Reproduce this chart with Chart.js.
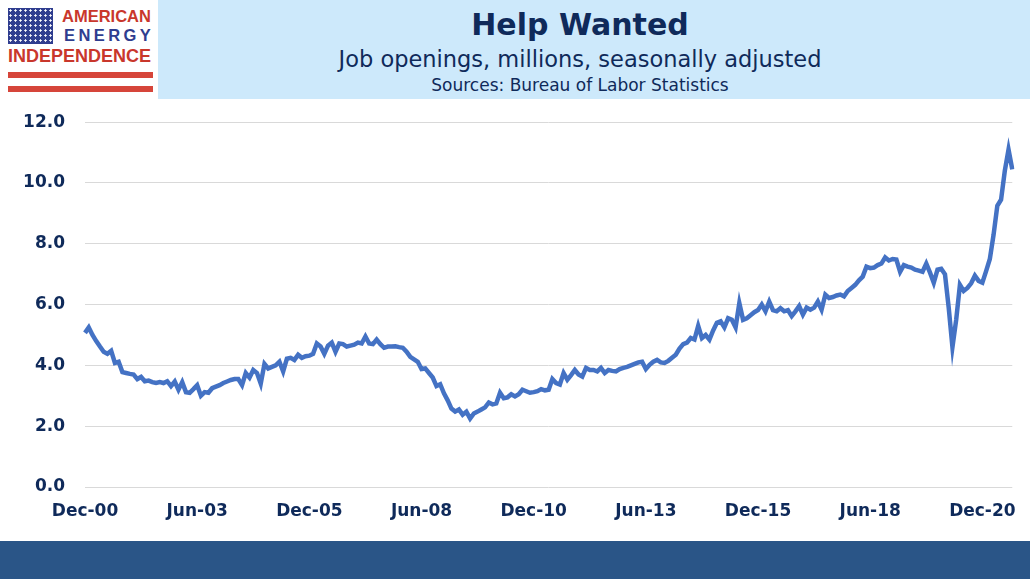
<!DOCTYPE html>
<html>
<head>
<meta charset="utf-8">
<title>Help Wanted</title>
<script src="https://cdn.jsdelivr.net/npm/chart.js@4.4.1/dist/chart.umd.min.js"></script>
<style>
  body { margin: 0; width: 1030px; height: 579px; position: relative; overflow: hidden; background: #fff; font-family: "DejaVu Sans", sans-serif; }
  #flag { position: absolute; left: 8px; top: 8px; width: 45px; height: 36px; background: radial-gradient(circle, #ffffff 0.9px, transparent 1.4px) 0 0 / 5px 5px, #2f3d8f; }
  .logo { position: absolute; font-family: "Liberation Sans", Arial, sans-serif; font-weight: bold; line-height: 1; white-space: nowrap; }
  #am { left: 62px; top: 8px; font-size: 16.5px; color: #c9372c; }
  #en { left: 64px; top: 27px; font-size: 16.5px; color: #2f3d8f; letter-spacing: 3.4px; }
  #ind { left: 8px; top: 47px; font-size: 18px; color: #c9372c; }
  .stripe { position: absolute; left: 8px; width: 145px; height: 6px; background: #d6453a; }
  #header { position: absolute; left: 158px; top: 0; width: 872px; height: 99px; background: #cde9fb; }
  .ttl { position: absolute; left: 130px; width: 900px; text-align: center; color: #0f2a5a; white-space: nowrap; line-height: 1; }
  #t1 { top: 10px; font-size: 30px; font-weight: bold; }
  #t2 { top: 48px; font-size: 22.5px; }
  #t3 { top: 77px; font-size: 17px; }
  #band { position: absolute; left: 0; top: 541px; width: 1030px; height: 38px; background: #2a5587; }
  #wrap { position: absolute; left: 0; top: 92px; width: 1030px; height: 448px; }
</style>
</head>
<body>
<div id="flag"></div>
<div id="header"></div>
<div class="logo" id="am">AMERICAN</div>
<div class="logo" id="en">ENERGY</div>
<div class="logo" id="ind">INDEPENDENCE</div>
<div class="stripe" style="top:72px"></div>
<div class="stripe" style="top:86px"></div>
<div class="ttl" id="t1">Help Wanted</div>
<div class="ttl" id="t2">Job openings, millions, seasonally adjusted</div>
<div class="ttl" id="t3">Sources: Bureau of Labor Statistics</div>
<div id="band"></div>
<div id="wrap"><canvas id="myChart"></canvas></div>

<script>
// job openings, millions (monthly, Dec 2000 - Aug 2021)
const jo2000 = [5.07];
const jo2001 = [5.25, 5.00, 4.80, 4.62, 4.45, 4.38, 4.48, 4.08, 4.12, 3.78, 3.75, 3.72];
const jo2002 = [3.70, 3.55, 3.62, 3.48, 3.50, 3.45, 3.42, 3.45, 3.42, 3.48, 3.32, 3.47];
const jo2003 = [3.20, 3.45, 3.12, 3.10, 3.22, 3.35, 3.00, 3.12, 3.10, 3.25, 3.30, 3.35];
const jo2004 = [3.42, 3.47, 3.52, 3.55, 3.55, 3.35, 3.75, 3.60, 3.85, 3.75, 3.40, 4.05];
const jo2005 = [3.90, 3.95, 4.00, 4.12, 3.80, 4.22, 4.25, 4.18, 4.35, 4.25, 4.30, 4.32];
const jo2006 = [4.38, 4.72, 4.62, 4.38, 4.65, 4.75, 4.45, 4.72, 4.70, 4.62, 4.65, 4.68];
const jo2007 = [4.75, 4.72, 4.95, 4.72, 4.70, 4.85, 4.70, 4.58, 4.62, 4.62, 4.63, 4.60];
const jo2008 = [4.58, 4.45, 4.28, 4.20, 4.12, 3.88, 3.90, 3.75, 3.60, 3.32, 3.38, 3.08];
const jo2009 = [2.85, 2.58, 2.48, 2.55, 2.38, 2.48, 2.25, 2.42, 2.48, 2.55, 2.62, 2.78];
const jo2010 = [2.72, 2.75, 3.10, 2.92, 2.95, 3.05, 2.98, 3.05, 3.20, 3.15, 3.10, 3.12];
const jo2011 = [3.15, 3.22, 3.18, 3.20, 3.55, 3.42, 3.37, 3.75, 3.53, 3.68, 3.85, 3.70];
const jo2012 = [3.63, 3.92, 3.85, 3.85, 3.80, 3.92, 3.75, 3.85, 3.82, 3.80, 3.88, 3.92];
const jo2013 = [3.95, 4.00, 4.05, 4.10, 4.12, 3.88, 4.02, 4.12, 4.18, 4.10, 4.08, 4.15];
const jo2014 = [4.25, 4.35, 4.55, 4.70, 4.75, 4.90, 4.85, 5.30, 4.90, 5.00, 4.85, 5.15];
const jo2015 = [5.40, 5.45, 5.25, 5.55, 5.50, 5.25, 6.05, 5.50, 5.55, 5.65, 5.75, 5.82];
const jo2016 = [6.00, 5.78, 6.10, 5.82, 5.78, 5.88, 5.78, 5.82, 5.62, 5.78, 5.95, 5.67];
const jo2017 = [5.90, 5.83, 5.90, 6.10, 5.83, 6.33, 6.22, 6.25, 6.30, 6.33, 6.27, 6.45];
const jo2018 = [6.55, 6.65, 6.80, 6.92, 7.25, 7.20, 7.22, 7.30, 7.35, 7.55, 7.45, 7.50];
const jo2019 = [7.48, 7.08, 7.30, 7.25, 7.22, 7.15, 7.12, 7.08, 7.35, 7.05, 6.72, 7.15];
const jo2020 = [7.18, 7.00, 5.90, 4.60, 5.50, 6.65, 6.45, 6.55, 6.70, 6.95, 6.78, 6.72];
const jo2021 = [7.10, 7.50, 8.30, 9.25, 9.45, 10.40, 11.10, 10.45];

const tickLabels = ["Dec-00", "Jun-03", "Dec-05", "Jun-08", "Dec-10", "Jun-13", "Dec-15", "Jun-18", "Dec-20"];
const yTicks = [0, 2, 4, 6, 8, 10, 12];
const monthNames = ["Jan", "Feb", "Mar", "Apr", "May", "Jun", "Jul", "Aug", "Sep", "Oct", "Nov", "Dec"];

const openings = [].concat(jo2000, jo2001, jo2002, jo2003, jo2004, jo2005, jo2006, jo2007,
  jo2008, jo2009, jo2010, jo2011, jo2012, jo2013, jo2014, jo2015, jo2016, jo2017,
  jo2018, jo2019, jo2020, jo2021);

// month labels starting Dec 2000
const labels = openings.map((v, i) => {
  const m = (11 + i) % 12;
  const y = 2000 + Math.floor((11 + i) / 12);
  return monthNames[m] + "-" + String(y % 100).padStart(2, "0");
});

const navy = "#0f2a5a";
const tickFont = { family: "DejaVu Sans", size: 17, weight: "bold" };

const ctx = document.querySelector("#myChart");
new Chart(ctx, {
  type: "line",
  data: {
    labels: labels,
    datasets: [
      {
        label: "Job openings",
        data: openings,
        borderColor: "#4472c4",
        borderWidth: 4.5,
        pointRadius: 0,
        tension: 0,
        fill: false,
      },
    ],
  },
  options: {
    responsive: true,
    maintainAspectRatio: false,
    animation: false,
    layout: { padding: { top: 8, right: 13, bottom: 12, left: 0 } },
    plugins: { legend: { display: false }, tooltip: { enabled: false } },
    scales: {
      x: {
        grid: { display: false, drawTicks: false },
        border: { display: false },
        afterFit: (scale) => { scale.height = 41; },
        ticks: {
          autoSkip: false,
          maxRotation: 0,
          padding: 14,
          color: navy,
          font: tickFont,
          callback: function (val) {
            const lab = this.getLabelForValue(val);
            return tickLabels.includes(lab) ? lab : null;
          },
        },
      },
      y: {
        min: 0,
        max: 12,
        afterFit: (scale) => { scale.width = 85; },
        afterBuildTicks: (scale) => { scale.ticks = yTicks.map((v) => ({ value: v })); },
        grid: { color: "#d9d9d9", lineWidth: 1, drawTicks: false },
        border: { display: false },
        ticks: {
          padding: 20,
          color: navy,
          font: tickFont,
          callback: (v) => v.toFixed(1),
        },
      },
    },
  },
});
</script>
</body>
</html>
